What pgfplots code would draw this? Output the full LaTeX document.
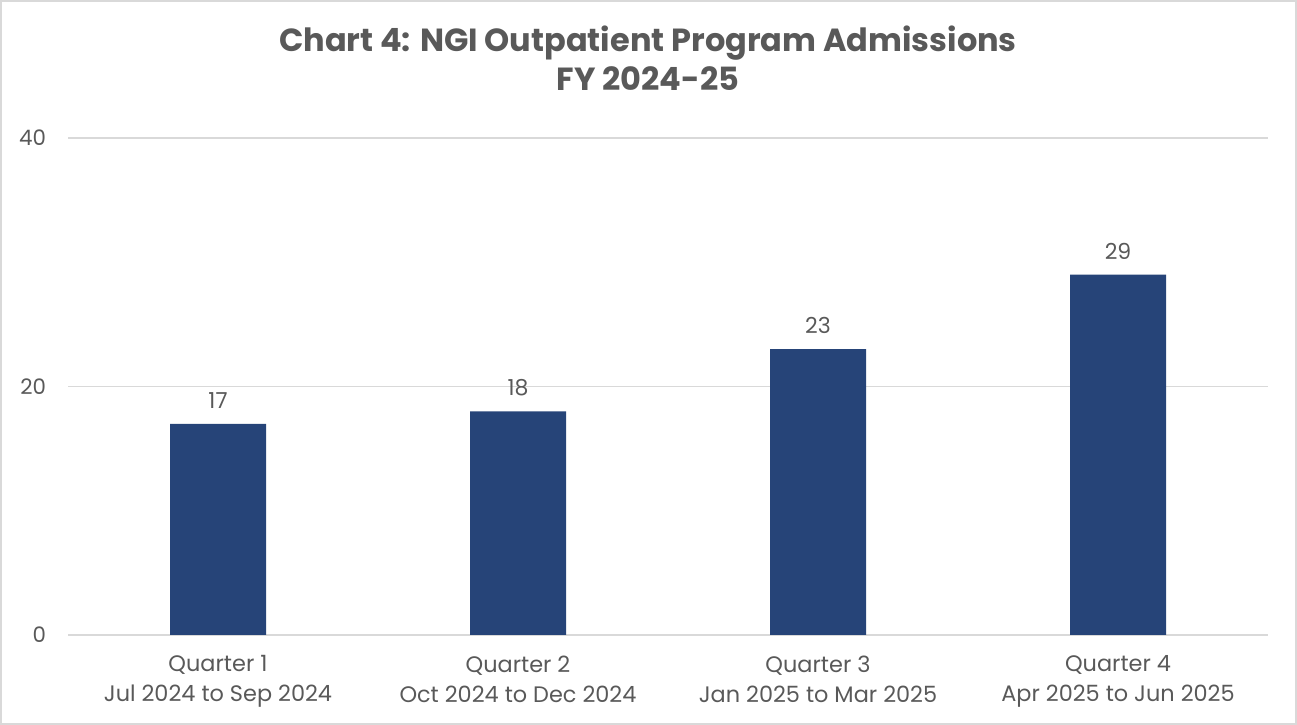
\documentclass[border=0pt]{standalone}
\usepackage{pgfplots}
\pgfplotsset{compat=1.18}
\usepackage{fontspec}
\setmainfont{Poppins}
\definecolor{barblue}{HTML}{264478}
\definecolor{txtgray}{HTML}{595959}
\definecolor{gridgray}{HTML}{D9D9D9}
\begin{document}
\begin{tikzpicture}[x=0.75pt,y=0.75pt]
\draw[gridgray,line width=1.5pt] (1,1) rectangle (1296,724);
\node[align=center,text=txtgray,font=\fontsize{24}{29}\selectfont\bfseries] at (648,667) {Chart 4: NGI Outpatient Program Admissions\\FY 2024-25};
\begin{axis}[
  at={(68*0.75pt,90*0.75pt)}, anchor=south west,
  scale only axis, width=900pt, height=372.75pt,
  ymin=0, ymax=40, ytick={0,20,40},
  xmin=-0.5, xmax=3.5, xtick=data,
  xticklabels={{Quarter 1\\Jul 2024 to Sep 2024},{Quarter 2\\Oct 2024 to Dec 2024},{Quarter 3\\Jan 2025 to Mar 2025},{Quarter 4\\Apr 2025 to Jun 2025}},
  xticklabel style={align=center,text=txtgray,font=\fontsize{16.8}{22.5}\selectfont,yshift=-12pt},
  yticklabel style={text=txtgray,font=\fontsize{16}{18}\selectfont,xshift=-13pt},
  /pgf/number format/assume math mode=true,
  axis line style={draw=none},
  major tick length=0pt,
  ymajorgrids, grid style={gridgray,line width=1.2pt},
  axis x line*=bottom,
  x axis line style={draw=gridgray,line width=1.2pt},
  ybar, bar width=72pt,
  nodes near coords,
  nodes near coords style={text=txtgray,font=\fontsize{16.5}{18}\selectfont,yshift=8pt},
  clip=false,
]
\addplot[fill=barblue,draw=none] coordinates {(0,17) (1,18) (2,23) (3,29)};
\end{axis}
\end{tikzpicture}
\end{document}
